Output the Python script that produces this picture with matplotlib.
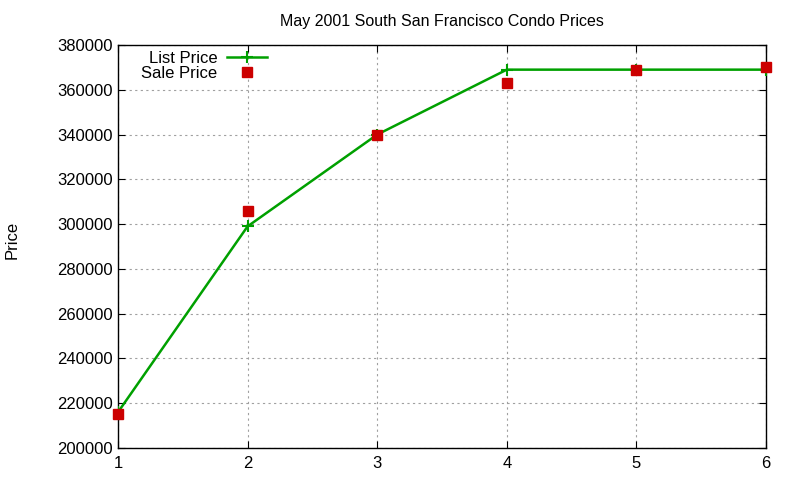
import matplotlib.pyplot as plt

# Condo prices by house index
houses = [1, 2, 3, 4, 5, 6]
list_price = [216000, 299000, 340000, 369000, 369000, 369000]
sale_price = [215000, 306000, 340000, 363000, 369000, 370000]

plt.rcParams['font.family'] = ['Liberation Sans', 'DejaVu Sans']

fig = plt.figure(figsize=(8, 4.8), dpi=100)
ax = fig.add_axes([0.1475, 0.0667, 0.81, 0.8395])

ax.plot(houses, list_price, color='#00a000', lw=1.8, marker='+', ms=8, mew=1.5,
        label='List Price', zorder=3)
ax.plot(houses, sale_price, ls='none', marker='s', ms=6.5, color='#cc0000',
        label='Sale Price', zorder=4, clip_on=False)

ax.set_xlim(1, 6)
ax.set_ylim(200000, 380000)
ax.set_xticks(houses)
ax.set_yticks(range(200000, 380001, 20000))
ax.tick_params(direction='in', top=True, right=True, labelsize=12, length=5)
ax.tick_params(axis='x', pad=6)
ax.grid(True, ls=(0, (2, 3)), color='#a0a0a0', lw=0.8)
for s in ax.spines.values():
    s.set_linewidth(1.0)

ax.set_title('May 2001 South San Francisco Condo Prices', fontsize=11.5, pad=14)
fig.text(12 / 800, 0.5, 'Price', rotation=90, ha='center', va='center', fontsize=12)

ax.legend(loc='upper left', bbox_to_anchor=(0.018, 1.015), frameon=False,
          markerfirst=False, fontsize=12, handlelength=2.4, handletextpad=0.55,
          labelspacing=0.0, borderaxespad=0.3)

fig.savefig('out.png', dpi=100)
